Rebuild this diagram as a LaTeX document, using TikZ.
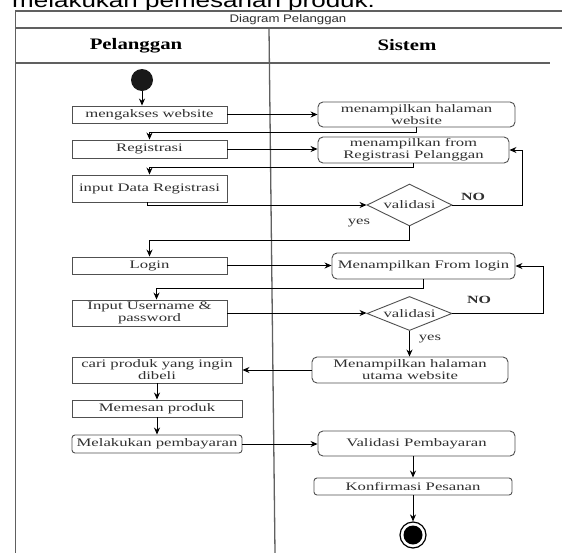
\documentclass[tikz,border=0pt]{standalone}
\usepackage{fontspec}
\setmainfont{Liberation Serif}
\newfontfamily\serifw[FakeStretch=1.45]{Liberation Serif}
\newfontfamily\serifh[FakeStretch=1.3]{Liberation Serif}
\newfontfamily\sanst[FakeStretch=1.2]{Liberation Sans}
\newfontfamily\sansbig[FakeStretch=1.3]{Liberation Sans}
\usetikzlibrary{shapes.geometric,arrows.meta}
\definecolor{txt}{HTML}{303030}
\definecolor{frm}{HTML}{606060}
\definecolor{bord}{HTML}{505050}
\tikzset{
  frame/.style={draw=frm, line width=1.3pt},
  boxtxt/.style={text=txt, font=\serifw\fontsize{11.5}{12}\selectfont, align=center, inner sep=0pt},
  lbox/.style={boxtxt, draw=bord, line width=0.9pt, rectangle},
  rbox/.style={boxtxt, draw=bord, line width=0.9pt, rectangle, rounded corners=5pt},
  dec/.style={boxtxt, draw=bord, line width=0.9pt, diamond, aspect=2, minimum width=85pt},
  arr/.style={draw=black, line width=0.9pt, -{Stealth[length=7pt,width=6pt]}},
  lbl/.style={text=txt, font=\serifw\fontsize{11.5}{12}\selectfont, inner sep=0pt},
  lblb/.style={text=txt, font=\serifw\bfseries\fontsize{11}{12}\selectfont, inner sep=0pt},
  head/.style={text=black, font=\serifh\bfseries\fontsize{16}{18}\selectfont, inner sep=0pt}
}
\begin{document}
\begin{tikzpicture}[x=1pt,y=-1pt]
\useasboundingbox (0,0) rectangle (562,552);
\clip (0,0) rectangle (562,552);
\fill[white] (0,0) rectangle (562,552);
% cropped caption above
\node[anchor=base west, inner sep=0pt, text=black, font=\sansbig\fontsize{20}{22}\selectfont] (cap) at (12,7) {melakukan pemesanan produk.};
% frame
\draw[frame] (562,11) -- (15.5,11) -- (15.5,553);
\draw[frame] (15.5,28) -- (562,28);
\draw[frame] (15.5,63) -- (550,63);
\draw[frame] (269,28) -- (275,553);
\node[text=txt, font=\sanst\fontsize{11}{12}\selectfont, inner sep=0pt] (title) at (288,19.5) {Diagram Pelanggan};
\node[head] (hp) at (136,45.5) {Pelanggan};
\node[head] (hs) at (407,45.5) {Sistem};
% start
\node[circle, fill=black!90, minimum size=22pt, inner sep=0pt] (start) at (142,80) {};
% left lane
\node[lbox, minimum width=155pt, minimum height=17pt] (acc) at (149.5,114.5) {mengakses website};
\node[lbox, minimum width=155pt, minimum height=18pt] (reg) at (149.5,149) {Registrasi};
\node[lbox, minimum width=155pt, minimum height=27pt] (inp) at (149.5,188.5) {input Data Registrasi};
\node[lbox, minimum width=155pt, minimum height=17pt] (login) at (149.5,265.5) {Login};
\node[lbox, minimum width=155pt, minimum height=26pt] (user) at (149.5,313) {Input Username \&\\password};
\node[lbox, minimum width=170pt, minimum height=26pt] (cari) at (157,370) {cari produk yang ingin\\dibeli};
\node[lbox, minimum width=170pt, minimum height=17pt] (pesan) at (157,408.5) {Memesan produk};
\node[lbox, rounded corners=3pt, minimum width=170pt, minimum height=18pt] (bayar) at (157,444) {Melakukan pembayaran};
% right lane
\node[rbox, minimum width=197pt, minimum height=25pt] (tamp1) at (416.5,114.5) {menampilkan halaman\\website};
\node[rbox, minimum width=191pt, minimum height=26pt] (tamp2) at (413.5,150) {menampilkan from\\Registrasi Pelanggan};
\node[dec, minimum height=42pt] (val1) at (409.5,205) {validasi};
\node[rbox, minimum width=183pt, minimum height=26pt] (tlogin) at (423.5,266) {Menampilkan From login};
\node[dec, minimum height=33pt] (val2) at (409.5,313.5) {validasi};
\node[rbox, minimum width=196pt, minimum height=26pt] (utama) at (410,370) {Menampilkan halaman\\utama website};
\node[rbox, minimum width=197pt, minimum height=25pt] (vbayar) at (416.5,443.5) {Validasi Pembayaran};
\node[rbox, rounded corners=3pt, minimum width=198pt, minimum height=17pt] (konf) at (413,486.5) {Konfirmasi Pesanan};
\node[circle, draw=black, line width=1.2pt, minimum size=26pt, inner sep=0pt] (end) at (413,535) {};
\node[circle, fill=black, minimum size=19pt, inner sep=0pt] (endin) at (end) {};
% labels
\node[lblb] (no1) at (473,197) {NO};
\node[lblb] (no2) at (479,300) {NO};
\node[lbl] (yes1) at (359,223) {yes};
\node[lbl] (yes2) at (430,339) {yes};
% connectors
\draw[arr] (start) -- (start |- acc.north);
\draw[arr] (acc.east) -- (acc.east -| tamp1.west);
\draw[arr] (tamp1.south) -- ++(0,5) -| (reg.north);
\draw[arr] (reg.east) -- (reg.east -| tamp2.west);
\draw[arr] (tamp2.south) -- ++(0,4) -| (inp.north);
\draw[arr] ([xshift=-2.5pt]inp.south) |- (val1.west);
\draw[arr] (val1.east) -- ++(70,0) |- (tamp2.east);
\draw[arr] (val1.south) -- ++(0,14) -| (login.north);
\draw[arr] (login.east) -- (login.east -| tlogin.west);
\draw[arr] (tlogin.south) -- ++(0,9) -| ([xshift=7pt]user.north);
\draw[arr] (user.east) -- (user.east -| val2.west);
\draw[arr] (val2.east) -- ++(91,0) |- (tlogin.east);
\draw[arr] (val2.south) -- (val2.south |- utama.north);
\draw[arr] (utama.west) -- (utama.west -| cari.east);
\draw[arr] (cari.south) -- (pesan.north);
\draw[arr] (pesan.south) -- (bayar.north);
\draw[arr] (bayar.east) -- (bayar.east -| vbayar.west);
\draw[arr] (konf.north |- vbayar.south) -- (konf.north);
\draw[arr] (konf.south) -- (end.north);
\end{tikzpicture}
\end{document}
